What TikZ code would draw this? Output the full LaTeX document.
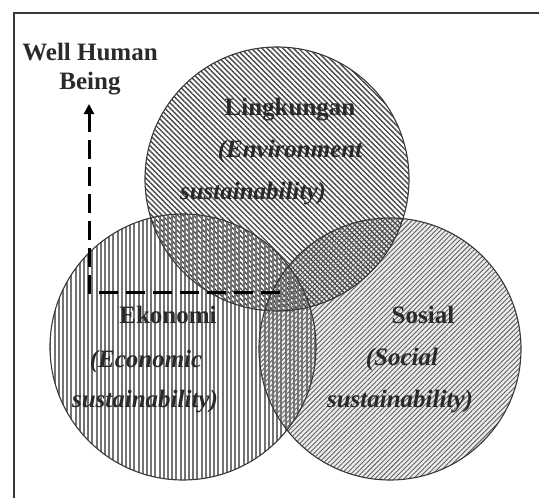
\documentclass[tikz,border=0pt]{standalone}
\usepackage{fontspec}
\setmainfont{Liberation Serif}
\usetikzlibrary{patterns.meta,arrows.meta}
\definecolor{txt}{HTML}{2A2A2A}
\definecolor{edge}{HTML}{383838}
\tikzset{
  circ/.style={draw=edge,line width=1.1pt},
  lbl/.style={anchor=base,text=txt,font=\fontsize{25}{29}\selectfont\bfseries,inner sep=0pt},
  ilbl/.style={lbl,font=\fontsize{25}{29}\selectfont\bfseries\itshape},
  dasharrow/.style={line width=3pt,dash pattern=on 19pt off 8pt,-{Triangle[length=10pt,width=10pt]}},
}
\begin{document}
\begin{tikzpicture}[x=1pt,y=-1pt]
\useasboundingbox (0,0) rectangle (539,498);
% frame
\draw[draw=edge,line width=1.3pt] (14,498) -- (14,13) -- (539,13);
% fills
\fill[gray!15] (390,349) circle (131);
\fill[pattern={Lines[angle=45,distance=3.4pt,line width=0.9pt]},pattern color=gray!75!black] (390,349) circle (131);
\fill[pattern={Lines[angle=-45,distance=3.7pt,line width=1.4pt]},pattern color=black!72] (277,179) circle (132);
\fill[pattern={Lines[angle=90,distance=4.2pt,line width=1.9pt]},pattern color=black!55] (183,347) circle (133);
% outlines
\node[circ,circle,minimum size=264pt,inner sep=0pt] (env) at (277,179) {};
\node[circ,circle,minimum size=266pt,inner sep=0pt] (eco) at (183,347) {};
\node[circ,circle,minimum size=262pt,inner sep=0pt] (soc) at (390,349) {};
% labels
\node[lbl] (well) at (90,60) {Well Human};
\node[lbl] (being) at (90,89) {Being};
\node[lbl] (l1) at (290,115) {Lingkungan};
\node[ilbl] (l2) at (290,157) {(Environment};
\node[ilbl] (l3) at (253,199) {sustainability)};
\node[lbl] (e1) at (168,323) {Ekonomi};
\node[ilbl] (e2) at (146,367) {(Economic};
\node[ilbl] (e3) at (145,407) {sustainability)};
\node[lbl] (s1) at (423,323) {Sosial};
\node[ilbl] (s2) at (402,365) {(Social};
\node[ilbl] (s3) at (400,407) {sustainability)};
% dashed arrow
\coordinate (dend) at (280,292);
\coordinate (corner) at (89,292);
\coordinate (tip) at (89,104);
\draw[dasharrow] (dend) -- (corner) -- (tip);
\end{tikzpicture}
\end{document}
